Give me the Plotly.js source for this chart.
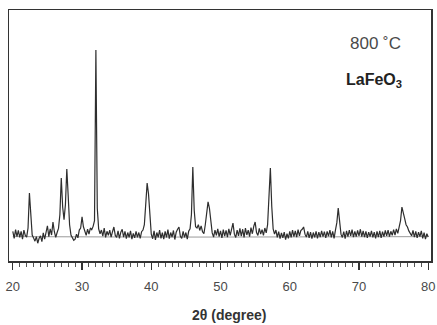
<!DOCTYPE html>
<html>
<head>
<meta charset="utf-8">
<script src="https://cdn.plot.ly/plotly-3.0.1.min.js"></script>
<style>html,body{margin:0;padding:0;background:#fff;}#chart{width:437px;height:325px;}</style>
</head>
<body>
<div id="chart"></div>
<script>
// XRD scan: 2θ from 20.0° to 80.0°, step 0.2°
var scanStart = 20.0;
var scanStep = 0.2;
var intensity = [
  118, 84, 126, 92, 122,      // 20
  88, 118, 80, 124, 98,       // 21
  90, 134, 304, 170, 100,     // 22
  86, 70, 92, 60, 84,         // 23
  96, 68, 110, 80, 124,       // 24
  145, 92, 130, 100, 163,     // 25
  116, 88, 112, 132, 200,     // 26
  377, 236, 175, 248, 421,    // 27
  290, 150, 100, 82, 74,      // 28
  80, 104, 86, 124, 134,      // 29
  188, 140, 114, 98, 128,     // 30
  104, 134, 126, 142, 170,    // 31
  1000, 230, 130, 106, 124,   // 32
  94, 134, 88, 118, 98,       // 33
  124, 90, 116, 139, 98,      // 34
  88, 120, 84, 114, 128,      // 35
  90, 118, 82, 112, 88,       // 36
  120, 80, 108, 86, 118,      // 37
  88, 112, 84, 116, 124,      // 38
  150, 250, 353, 300, 170,    // 39
  104, 82, 120, 76, 112,      // 40
  88, 124, 84, 112, 80,       // 41
  118, 88, 126, 82, 112,      // 42
  90, 122, 78, 114, 128,      // 43
  139, 94, 84, 118, 88,       // 44
  112, 80, 118, 130, 200,     // 45
  431, 220, 140, 134, 150,    // 46
  122, 144, 116, 106, 150,    // 47
  200, 261, 230, 150, 110,    // 48
  90, 124, 98, 130, 92,       // 49
  120, 86, 126, 94, 122,      // 50
  90, 130, 98, 124, 158,      // 51
  104, 88, 124, 96, 132,      // 52
  94, 128, 88, 134, 100,      // 53
  124, 92, 136, 106, 142,     // 54
  163, 112, 98, 132, 104,     // 55
  126, 98, 134, 110, 150,     // 56
  260, 426, 240, 130, 104,    // 57
  124, 88, 116, 82, 110,      // 58
  86, 114, 78, 106, 84,       // 59
  118, 88, 124, 92, 120,      // 60
  90, 126, 96, 122, 128,      // 61
  139, 104, 90, 118, 86,      // 62
  114, 82, 112, 88, 118,      // 63
  84, 114, 90, 120, 92,       // 64
  116, 86, 118, 94, 124,      // 65
  88, 118, 84, 124, 160,      // 66
  231, 180, 104, 88, 116,     // 67
  82, 120, 92, 124, 96,       // 68
  126, 90, 118, 92, 122,      // 69
  96, 128, 92, 120, 90,       // 70
  118, 86, 114, 92, 120,      // 71
  88, 114, 84, 118, 90,       // 72
  120, 86, 116, 92, 122,      // 73
  96, 124, 92, 118, 98,       // 74
  126, 100, 130, 108, 140,    // 75
  170, 236, 200, 180, 150,    // 76
  139, 120, 104, 96, 122,     // 77
  90, 118, 86, 114, 92,       // 78
  120, 84, 112, 80, 106,      // 79
  90                          // 80
];
// smooth background curve
var bgAngle = [20, 30, 40, 50, 60, 70, 80];
var bgIntensity = [92, 90, 90, 90, 91, 92, 92];

var xTickVals = [20, 30, 40, 50, 60, 70, 80];
var xTickText = ['20', '30', '40', '50', '60', '70', '80'];
var tempLabel = '800 ˚C';
var phaseLabel = 'LaFeO<sub>3</sub>';
var xTitle = '2θ (degree)';

var traces = [
  {
    type: 'scatter', mode: 'lines',
    x: bgAngle, y: bgIntensity,
    line: {color: '#9a9a9a', width: 1},
    hoverinfo: 'skip'
  },
  {
    type: 'scatter', mode: 'lines',
    x0: scanStart, dx: scanStep, y: intensity,
    line: {color: '#2e2e2e', width: 1.2}
  }
];

var layout = {
  width: 437, height: 325,
  margin: {l: 9, r: 6, t: 10, b: 64},
  paper_bgcolor: '#ffffff', plot_bgcolor: '#ffffff',
  showlegend: false,
  font: {family: '"Liberation Sans", Arial, sans-serif', color: '#444'},
  xaxis: {
    range: [19.45, 80.4],
    tickmode: 'array', tickvals: xTickVals, ticktext: xTickText,
    ticks: 'outside', ticklen: 7, tickwidth: 1.2, tickcolor: '#333',
    minor: {dtick: 1, tick0: 20, ticks: 'outside', ticklen: 4, tickwidth: 1, tickcolor: '#555', showgrid: false},
    ticklabelstandoff: 6,
    tickfont: {size: 13, color: '#4a4a4a'},
    showgrid: false, zeroline: false,
    showline: true, linecolor: '#333', linewidth: 1.5, mirror: true
  },
  yaxis: {
    range: [-26.5, 1194.6],
    showticklabels: false, ticks: '',
    showgrid: false, zeroline: false,
    showline: true, linecolor: '#333', linewidth: 1.5, mirror: true
  },
  annotations: [
    {text: tempLabel, xref: 'paper', yref: 'paper', x: 0.933, y: 0.868,
     xanchor: 'right', yanchor: 'middle', showarrow: false,
     font: {size: 17, color: '#4a4a4a'}},
    {text: '<b>' + phaseLabel + '</b>', xref: 'paper', yref: 'paper', x: 0.935, y: 0.72,
     xanchor: 'right', yanchor: 'middle', showarrow: false,
     font: {size: 16, color: '#222'}},
    {text: '<b>' + xTitle + '</b>', xref: 'paper', yref: 'paper', x: 0.522, y: -0.215,
     xanchor: 'center', yanchor: 'middle', showarrow: false,
     font: {size: 14, color: '#333'}}
  ]
};

Plotly.newPlot('chart', traces, layout, {displayModeBar: false, staticPlot: true});
</script>
</body>
</html>
